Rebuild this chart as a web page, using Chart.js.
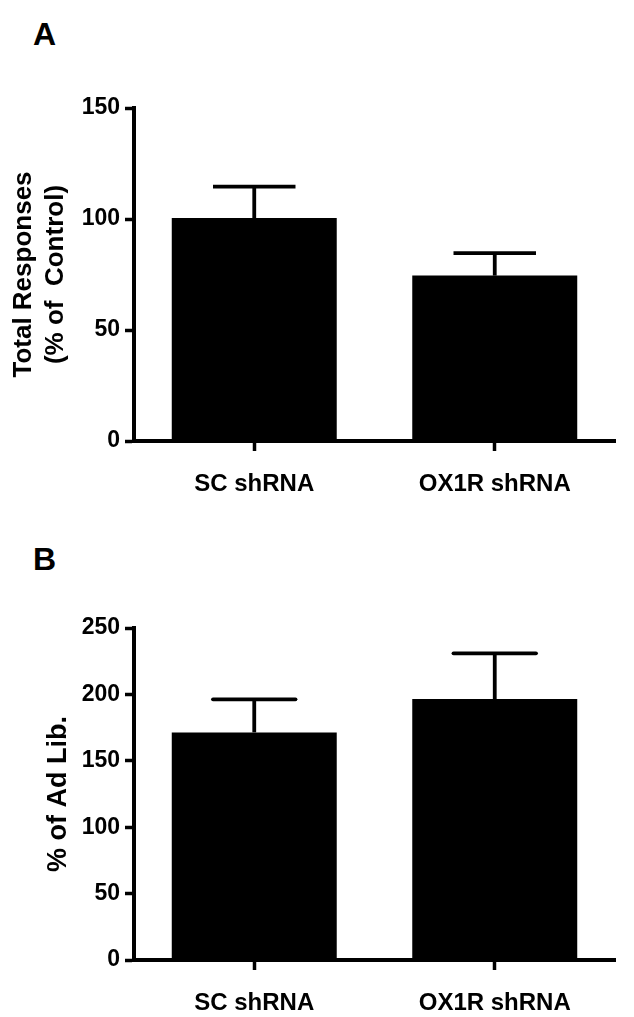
<!DOCTYPE html>
<html>
<head>
<meta charset="utf-8">
<script src="https://cdn.jsdelivr.net/npm/chart.js@4/dist/chart.umd.min.js"></script>
<style>
  html, body { margin: 0; padding: 0; background: #fff; }
  body { width: 634px; height: 1017px; position: relative; overflow: hidden; font-family: "Liberation Sans", Arial, sans-serif; }
  .panel { position: absolute; left: 0; width: 634px; }
  .letter { position: absolute; font: bold 32px/32px "Liberation Sans", Arial, sans-serif; color: #000; }
</style>
</head>
<body>
<div class="letter" style="left:33px; top:18px;">A</div>
<div class="letter" style="left:33px; top:543px;">B</div>
<div class="panel" style="top:0; height:520px;"><canvas id="chartA" width="634" height="520"></canvas></div>
<div class="panel" style="top:520px; height:497px;"><canvas id="chartB" width="634" height="497"></canvas></div>
<script>
// ---- data ----
const categories = ['SC shRNA', 'OX1R shRNA'];
const responsesMean = [100.4, 74.5];
const responsesSEM = [14.2, 10.1];
const adLibMean = [171.4, 196.5];
const adLibSEM = [24.9, 34.4];
const yTicksA = [0, 50, 100, 150];
const yTicksB = [0, 50, 100, 150, 200, 250];
const titleA = ['Total Responses', '(% of  Control)'];
const titleB = '% of Ad Lib.';

const FONT = '"Liberation Sans", Arial, sans-serif';

const errorBars = {
  id: 'errorBars',
  afterDatasetsDraw(chart, args, opts) {
    const ctx = chart.ctx;
    const meta = chart.getDatasetMeta(0);
    const yScale = chart.scales.y;
    const means = chart.data.datasets[0].data;
    const errs = opts.errors || [];
    ctx.save();
    ctx.strokeStyle = '#000';
    ctx.lineWidth = opts.lineWidth || 3.5;
    meta.data.forEach((bar, i) => {
      const x = bar.x;
      const yTop = yScale.getPixelForValue(means[i]);
      const yCap = yScale.getPixelForValue(means[i] + errs[i]);
      const half = bar.width * (opts.capFraction || 0.5) / 2;
      ctx.lineCap = 'butt';
      ctx.beginPath(); ctx.moveTo(x, yTop); ctx.lineTo(x, yCap); ctx.stroke();
      ctx.lineCap = opts.capStyle || 'butt';
      ctx.beginPath(); ctx.moveTo(x - half, yCap); ctx.lineTo(x + half, yCap); ctx.stroke();
    });
    ctx.restore();
  }
};

function makeChart(id, means, errs, ticks, title, titleSize, titlePadTop, padTop, xHeight, capStyle) {
  const maxV = ticks[ticks.length - 1];
  return new Chart(document.getElementById(id), {
    type: 'bar',
    data: {
      labels: categories,
      datasets: [{
        data: means,
        backgroundColor: '#000',
        borderWidth: 0,
        barPercentage: 0.686,
        categoryPercentage: 1.0
      }]
    },
    options: {
      responsive: false,
      animation: false,
      layout: { padding: { top: padTop, right: 19, bottom: 0, left: 0 } },
      plugins: {
        legend: { display: false },
        tooltip: { enabled: false },
        errorBars: { errors: errs, lineWidth: 3.8, capFraction: 0.5, capStyle: capStyle }
      },
      scales: {
        x: {
          offset: true,
          grid: { display: true, offset: false, drawOnChartArea: false, drawTicks: true, tickLength: 10, tickWidth: 3.5, tickColor: '#000', color: '#000' },
          border: { display: true, color: '#000', width: 4 },
          ticks: { color: '#000', padding: 19, font: { family: FONT, size: 24, weight: 'bold' } },
          afterFit: s => { s.height = xHeight; }
        },
        y: {
          min: 0,
          max: maxV,
          afterBuildTicks: s => { s.ticks = ticks.map(v => ({ value: v })); },
          grid: { display: true, drawOnChartArea: false, drawTicks: true, tickLength: 9, tickWidth: 3.5, tickColor: '#000', color: '#000' },
          border: { display: true, color: '#000', width: 4 },
          ticks: { color: '#000', padding: 5, font: { family: FONT, size: 23, weight: 'bold' } },
          title: {
            display: true,
            text: title,
            color: '#000',
            font: { family: FONT, size: titleSize, weight: 'bold', lineHeight: 1.23 },
            padding: { top: titlePadTop, bottom: 0 }
          },
          afterFit: s => { s.width = 134; }
        }
      }
    },
    plugins: [errorBars]
  });
}

makeChart('chartA', responsesMean, responsesSEM, yTicksA, titleA, 26, 8, 108, 79, 'butt');
makeChart('chartB', adLibMean, adLibSEM, yTicksB, titleB, 27, 42, 108, 57, 'round');
</script>
</body>
</html>
